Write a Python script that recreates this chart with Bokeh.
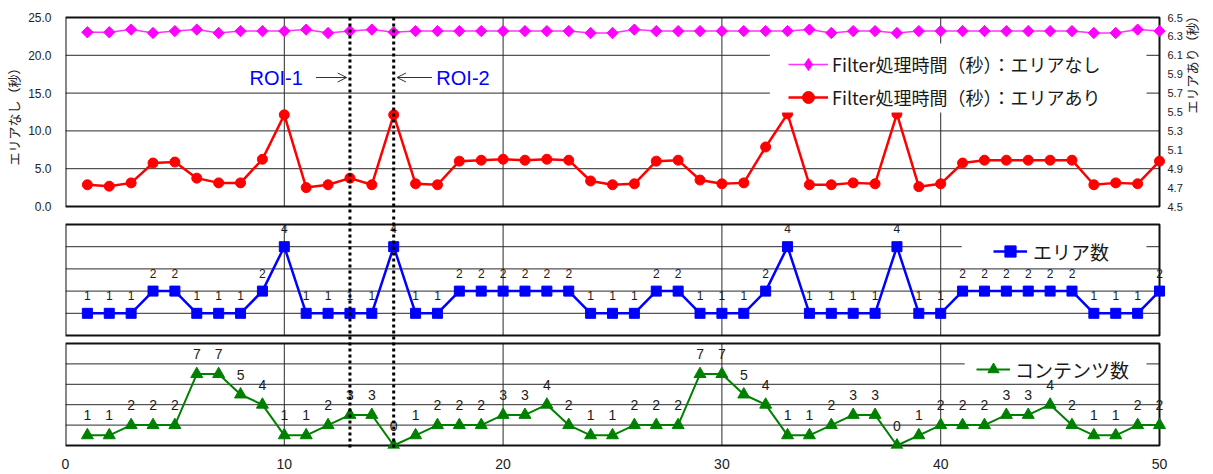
import math
from bokeh.plotting import figure
from bokeh.layouts import column
from bokeh.models import (Range1d, LinearAxis, FixedTicker, Legend, LegendItem, Label,
                          ColumnDataSource, NumeralTickFormatter, Arrow, OpenHead, BoxAnnotation)
from bokeh.embed import file_html
from bokeh.resources import INLINE
from bokeh.core.properties import value

# ---------------- data ----------------
frames = list(range(1, 51))
time_no_area = [23.05, 23.05, 23.4, 22.95, 23.2, 23.4, 22.95, 23.2, 23.2, 23.2,
                23.4, 22.95, 23.2, 23.4, 23.05, 23.2, 23.2, 23.2, 23.2, 23.2,
                23.2, 23.2, 23.2, 22.95, 22.95, 23.4, 23.2, 23.2, 23.2, 23.2,
                23.2, 23.2, 23.2, 23.4, 22.95, 23.2, 23.2, 22.95, 23.2, 23.2,
                23.2, 23.2, 23.2, 23.2, 23.2, 23.2, 22.95, 22.95, 23.4, 23.2]
time_area = [4.73, 4.715, 4.75, 4.96, 4.97, 4.80, 4.75, 4.75, 5.00, 5.47,
             4.70, 4.73, 4.80, 4.73, 5.47, 4.74, 4.73, 4.98, 4.99, 5.00,
             4.99, 5.00, 4.99, 4.77, 4.73, 4.74, 4.98, 4.99, 4.78, 4.74,
             4.75, 5.13, 5.48, 4.73, 4.73, 4.75, 4.74, 5.48, 4.71, 4.74,
             4.96, 4.99, 4.99, 4.99, 4.99, 4.99, 4.73, 4.75, 4.74, 4.98]
area_count = [1, 1, 1, 2, 2, 1, 1, 1, 2, 4, 1, 1, 1, 1, 4, 1, 1, 2, 2, 2,
              2, 2, 2, 1, 1, 1, 2, 2, 1, 1, 1, 2, 4, 1, 1, 1, 1, 4, 1, 1,
              2, 2, 2, 2, 2, 2, 1, 1, 1, 2]
content_count = [1, 1, 2, 2, 2, 7, 7, 5, 4, 1, 1, 2, 3, 3, 0, 1, 2, 2, 2, 3,
                 3, 4, 2, 1, 1, 2, 2, 2, 7, 7, 5, 4, 1, 1, 2, 3, 3, 0, 1, 2,
                 2, 2, 3, 3, 4, 2, 1, 1, 2, 2]

roi_positions = [13, 15]
roi_labels = ["ROI-1", "ROI-2"]

x_ticks = [0, 10, 20, 30, 40, 50]
left_ticks = [0, 5, 10, 15, 20, 25]
right_ticks = [4.5, 4.7, 4.9, 5.1, 5.3, 5.5, 5.7, 5.9, 6.1, 6.3, 6.5]
mid_grid = [1, 2, 3, 4]
bot_grid = [2, 4, 6, 8]
top_grid = [5, 10, 15, 20]
v_grid = [10, 20, 30, 40]

name_no_area = "Filter処理時間（秒）：エリアなし"
name_area = "Filter処理時間（秒）：エリアあり"
name_area_count = "エリア数"
name_content = "コンテンツ数"
left_title = "エリアなし（秒）"
right_title = "エリアあり（秒）"

# ---------------- layout (pixels) ----------------
W, H = 1213, 474
PL, PR = 65, 1160                 # panel left / right (x = 0 .. 50)
FL, FR = 65, 1168                 # plotting frame left / right
X_LO, X_HI = 0, 50
# figure bands: (frame_top, frame_bottom) in page pixels
BAND_TOP = (12, 214)
BAND_MID = (214, 340)
BAND_BOT = (340, 448)
PANEL_TOP = (206, 17, 0, 25)        # px_lo, px_hi, v_lo, v_hi
PANEL_RIGHT = (206, 17, 4.5, 6.5)
PANEL_MID = (335, 224, 0, 5)
PANEL_BOT = (445, 343, 0, 10)
ROI_BOTTOM_PX = 449

JP = "Noto Sans CJK JP"
NUM = "Liberation Sans"
GRID_C = "#2a2a2a"
FRAME_C = "#111111"


def make_range(panel, band):
    px_lo, px_hi, v_lo, v_hi = panel
    ft, fb = band
    k = (v_hi - v_lo) / (px_lo - px_hi)
    return Range1d(start=v_lo - (fb - px_lo) * k, end=v_hi + (px_hi - ft) * k)


def y_at(px, panel):
    px_lo, px_hi, v_lo, v_hi = panel
    k = (v_hi - v_lo) / (px_lo - px_hi)
    return v_lo + (px_lo - px) * k


def x_at(px):
    return X_LO + (px - PL) * (X_HI - X_LO) / (PR - PL)


def make_fig(panel, band, bottom_border=0, top_border=0):
    ft, fb = band
    f = figure(width=W, height=(fb - ft) + top_border + bottom_border,
               x_range=Range1d(X_LO, x_at(FR)), y_range=make_range(panel, band),
               output_backend="svg", toolbar_location=None,
               x_axis_location=None, y_axis_location=None,
               min_border_left=FL, min_border_right=W - FR,
               min_border_top=top_border, min_border_bottom=bottom_border)
    f.grid.visible = False
    f.outline_line_color = None
    return f


def panel_box(f, panel, hgrid, range_name="default"):
    lo, hi = panel[2], panel[3]
    f.segment(x0=X_LO, x1=X_HI, y0=hgrid, y1=hgrid, line_color=GRID_C, line_width=1,
              y_range_name=range_name)
    f.segment(x0=v_grid, x1=v_grid, y0=lo, y1=hi, line_color=GRID_C, line_width=1,
              y_range_name=range_name)
    f.quad(left=X_LO, right=X_HI, bottom=lo, top=hi, fill_color=None,
           line_color=FRAME_C, line_width=2, y_range_name=range_name)


def white_box(f, panel, x0, x1, top_px, bot_px):
    f.add_layout(BoxAnnotation(left=x_at(x0), right=x_at(x1), top=y_at(top_px, panel),
                               bottom=y_at(bot_px, panel), fill_color="white", fill_alpha=1,
                               line_color=None))


def roi_lines(f, panel, top_px, bot_px):
    f.segment(x0=roi_positions, x1=roi_positions, y0=y_at(top_px, panel), y1=y_at(bot_px, panel),
              line_color="black", line_width=3, line_dash="3 3")


legend_common = dict(padding=4, margin=0, background_fill_alpha=0, border_line_color=None,
                     label_text_font=JP, label_text_color="#1a1a1a")

# =============== top panel ===============
p_top = make_fig(PANEL_TOP, BAND_TOP, top_border=BAND_TOP[0])
p_top.extra_y_ranges = {"right": make_range(PANEL_RIGHT, BAND_TOP)}

lax = LinearAxis(ticker=FixedTicker(ticks=left_ticks), formatter=NumeralTickFormatter(format="0.0"),
                 axis_line_color=None, major_tick_line_color=None, minor_tick_line_color=None,
                 major_tick_out=0, major_tick_in=0, minor_tick_out=0, minor_tick_in=0,
                 major_label_standoff=14, major_label_text_font_size="12px",
                 major_label_text_font=NUM, major_label_text_color="#222222",
                 axis_label=left_title, axis_label_standoff=2, axis_label_text_font=JP,
                 axis_label_text_font_size="13px", axis_label_text_font_style="normal",
                 axis_label_text_color="#222222")
p_top.add_layout(lax, "left")
rax = LinearAxis(y_range_name="right", ticker=FixedTicker(ticks=right_ticks),
                 formatter=NumeralTickFormatter(format="0.0"),
                 axis_line_color=None, major_tick_line_color=None, minor_tick_line_color=None,
                 major_tick_out=0, major_tick_in=0, minor_tick_out=0, minor_tick_in=0,
                 major_label_standoff=0, major_label_text_font_size="11px",
                 major_label_text_font=NUM, major_label_text_color="#222222",
                 axis_label=right_title, axis_label_standoff=6, axis_label_text_font=JP,
                 axis_label_text_font_size="13px", axis_label_text_font_style="normal",
                 axis_label_text_color="#222222", axis_label_orientation=math.pi / 2)
p_top.add_layout(rax, "right")

panel_box(p_top, PANEL_TOP, top_grid)

l1 = p_top.line(frames, time_no_area, line_color="#ff33ff", line_width=1.5)
s1 = p_top.scatter(frames, time_no_area, marker="square", angle=math.pi / 4, size=8,
                   fill_color="#ff00ff", line_color="#ff00ff")
s1_key = p_top.scatter(frames[:1], time_no_area[:1], marker="diamond", size=1,
                       fill_color="#ff00ff", line_color="#ff00ff")
l2 = p_top.line(frames, time_area, line_color="#ff0000", line_width=2.5, y_range_name="right")
s2 = p_top.scatter(frames, time_area, marker="circle", size=10, fill_color="#ff0000",
                   line_color="#ff0000", y_range_name="right")

roi_lines(p_top, PANEL_TOP, PANEL_TOP[1], BAND_TOP[1] + 4)
roi_y = y_at(77, PANEL_TOP)
p_top.add_layout(Arrow(x_start=roi_positions[0] - 1.55, x_end=roi_positions[0] - 0.15,
                       y_start=roi_y, y_end=roi_y, line_color="#333333", line_width=1,
                       end=OpenHead(size=9, line_width=1, line_color="#333333")))
p_top.add_layout(Arrow(x_start=roi_positions[1] + 1.75, x_end=roi_positions[1] + 0.15,
                       y_start=roi_y, y_end=roi_y, line_color="#333333", line_width=1,
                       end=OpenHead(size=9, line_width=1, line_color="#333333")))
p_top.add_layout(Label(x=roi_positions[0] - 2.15, y=roi_y, text=roi_labels[0], text_align="right",
                       text_baseline="middle", text_font=NUM, text_font_size="20px",
                       text_color="#0000ff"))
p_top.add_layout(Label(x=roi_positions[1] + 1.95, y=roi_y, text=roi_labels[1], text_align="left",
                       text_baseline="middle", text_font=NUM, text_font_size="20px",
                       text_color="#0000ff"))

white_box(p_top, PANEL_TOP, 770, 1147, 43, 112)
leg_top = Legend(items=[LegendItem(label=name_no_area, renderers=[l1, s1_key]),
                        LegendItem(label=name_area, renderers=[l2, s2])],
                 location=(792 - 4 - FL, BAND_TOP[1] - 112), spacing=3, glyph_width=40,
                 glyph_height=30, label_height=30, label_standoff=4,
                 label_text_font_size="18px", **legend_common)
p_top.add_layout(leg_top)

# =============== middle panel ===============
p_mid = make_fig(PANEL_MID, BAND_MID)
panel_box(p_mid, PANEL_MID, mid_grid)
l3 = p_mid.line(frames, area_count, line_color="#0000ff", line_width=2.5)
s3 = p_mid.scatter(frames, area_count, marker="square", size=10, fill_color="#0000ff",
                   line_color="#0000ff")
src_area = ColumnDataSource(dict(x=frames, y=area_count, t=[str(v) for v in area_count]))
p_mid.text(x="x", y="y", text="t", source=src_area, text_align="center",
           text_baseline="middle", y_offset=-18, text_font=value(NUM), text_font_size="12px",
           text_color="#1a1a1a")
roi_lines(p_mid, PANEL_MID, BAND_MID[0] - 4, BAND_MID[1] + 4)
white_box(p_mid, PANEL_MID, 962, 1147, 234, 260)
leg_mid = Legend(items=[LegendItem(label=name_area_count, renderers=[l3, s3])],
                 location=(997 - 4 - FL, BAND_MID[1] - 265), glyph_width=34, glyph_height=28,
                 label_height=28, label_standoff=6, label_text_font_size="19px",
                 **legend_common)
p_mid.add_layout(leg_mid)

# =============== bottom panel ===============
p_bot = make_fig(PANEL_BOT, BAND_BOT, bottom_border=H - BAND_BOT[1])
bax = LinearAxis(ticker=FixedTicker(ticks=x_ticks),
                 axis_line_color=None, major_tick_line_color=None, minor_tick_line_color=None,
                 major_tick_out=0, major_tick_in=0, minor_tick_out=0, minor_tick_in=0,
                 major_label_standoff=10, major_label_text_font_size="14px",
                 major_label_text_font=NUM, major_label_text_color="#222222")
p_bot.add_layout(bax, "below")
panel_box(p_bot, PANEL_BOT, bot_grid)
l4 = p_bot.line(frames, content_count, line_color="#008000", line_width=2)
s4 = p_bot.scatter(frames, content_count, marker="triangle", size=12, fill_color="#008000",
                   line_color="#008000")
src_cont = ColumnDataSource(dict(x=frames, y=content_count, t=[str(v) for v in content_count]))
p_bot.text(x="x", y="y", text="t", source=src_cont, text_align="center",
           text_baseline="middle", y_offset=-20, text_font=value(NUM), text_font_size="14px",
           text_color="#1a1a1a")
roi_lines(p_bot, PANEL_BOT, BAND_BOT[0] - 4, ROI_BOTTOM_PX)
white_box(p_bot, PANEL_BOT, 965, 1147, 352, 378)
leg_bot = Legend(items=[LegendItem(label=name_content, renderers=[l4, s4])],
                 location=(980 - 4 - FL, BAND_BOT[1] - 383), glyph_width=34, glyph_height=28,
                 label_height=28, label_standoff=5, label_text_font_size="19px",
                 **legend_common)
p_bot.add_layout(leg_bot)

layout = column(p_top, p_mid, p_bot, spacing=0)
open("out.html", "w").write(file_html(layout, INLINE))
